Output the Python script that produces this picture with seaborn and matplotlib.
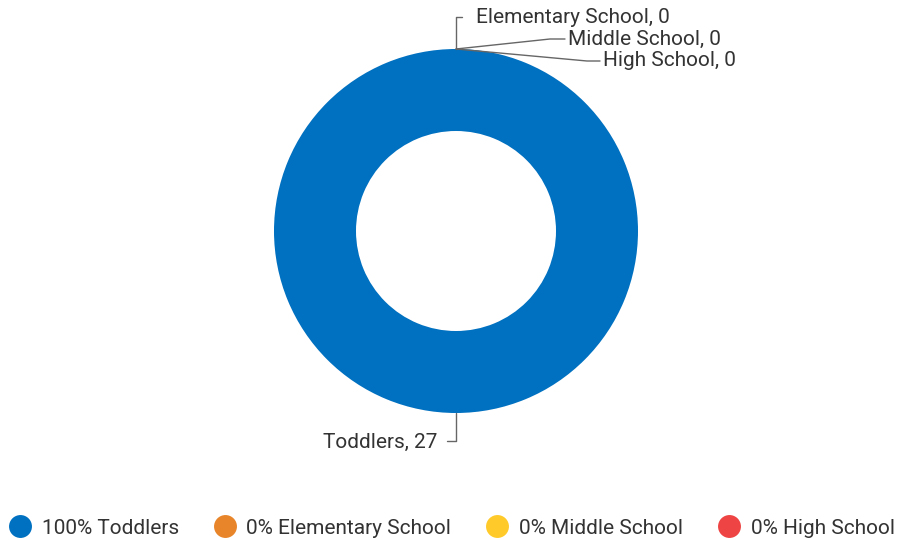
import numpy as np
import seaborn as sns
import matplotlib.pyplot as plt
from matplotlib.lines import Line2D

# données
categories = ["Toddlers", "Elementary School", "Middle School", "High School"]
counts = [27, 0, 0, 0]
colors = ["#0070C0", "#E8852A", "#FFCA2A", "#EE4444"]

sns.set_theme(style="white")
plt.rcParams["font.family"] = ["Roboto", "DejaVu Sans"]

W, H = 902, 540
R = 182.0          # rayon extérieur en pixels
cx, cy = 456, 231  # centre en pixels

fig = plt.figure(figsize=(W / 100, H / 100), dpi=100)
ax = fig.add_axes([0, 0, 1, 1])

wedges, _ = ax.pie(counts, colors=colors, startangle=90, counterclock=False,
                   radius=1, wedgeprops=dict(width=82 / R, linewidth=0))
ax.set_xlim(-cx / R, (W - cx) / R)
ax.set_ylim(-(H - cy) / R, cy / R)
ax.axis("off")

total = sum(counts)
text_color = "#333333"
line_color = "#666666"


def px(dx, dy):
    # décalage en pixels -> unités des données
    return dx / R, -dy / R


# décalages des étiquettes (pixels): points du trait, position du texte, alignement
label_paths = {
    "Elementary School": ([(0, 0), (0, -32), (6, -32)], (20, -31), "left"),
    "Middle School": ([(0, 0), (94, -10), (109, -10)], (112, -10), "left"),
    "High School": ([(0, 0), (131, 12), (144, 12)], (147, 12), "left"),
    "Toddlers": ([(0, 0), (0, 28), (-9, 28)], (-19, 29), "right"),
}

for w, cat, n in zip(wedges, categories, counts):
    ang = np.deg2rad((w.theta1 + w.theta2) / 2) if n > 0 else np.deg2rad(w.theta1)
    if cat == "Toddlers":
        ang = np.deg2rad(-90)
    ax0, ay0 = np.cos(ang), np.sin(ang)
    pts, tpos, ha = label_paths[cat]
    xs = [ax0 + px(*p)[0] for p in pts]
    ys = [ay0 + px(*p)[1] for p in pts]
    ax.plot(xs, ys, color=line_color, lw=1)
    tx, ty = px(*tpos)
    ax.text(ax0 + tx, ay0 + ty, f"{cat}, {n}", ha=ha, va="center",
            fontsize=15, color=text_color)

handles = [Line2D([], [], marker="o", linestyle="", markersize=16.5,
                  markerfacecolor=c, markeredgewidth=0) for c in colors]
labels = [f"{round(100 * n / total)}% {cat}" for cat, n in zip(categories, counts)]
fig.legend(handles, labels, loc="center", bbox_to_anchor=(0.5, 12 / H), ncol=4,
           frameon=False, fontsize=15, labelcolor=text_color,
           handlelength=1.2, handletextpad=0.45, columnspacing=1.6)

fig.savefig("out.png", dpi=100)
